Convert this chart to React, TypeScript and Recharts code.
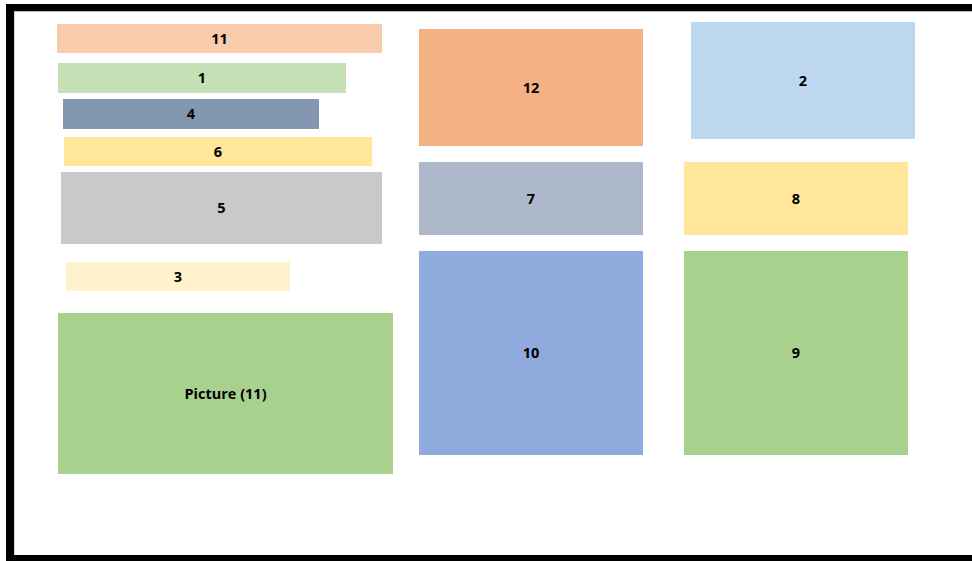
import { ReferenceArea, Scatter, ScatterChart, XAxis, YAxis } from "recharts";

// layout of the boxes, in page units (x to the right, y downwards)
const labels = ["11", "1", "4", "6", "5", "3", "Picture (11)", "12", "7", "10", "2", "8", "9"];
const left = [57, 58, 63, 64, 61, 66, 58, 419, 419, 419, 691, 684, 684];
const right = [382, 346, 319, 372, 382, 290, 393, 643, 643, 643, 915, 908, 908];
const top = [24, 63, 99, 137, 172, 262, 313, 29, 162, 251, 22, 162, 251];
const bottom = [53, 93, 129, 166, 244, 291, 474, 146, 235, 455, 139, 235, 455];
const fills = [
  "#F8CBAD", "#C5E0B4", "#8497B0", "#FFE699", "#C9C9C9", "#FFF2CC", "#A9D18E",
  "#F4B183", "#ADB9CA", "#8FAADC", "#BDD7EE", "#FFE699", "#A9D18E",
];

const W = 972;
const H = 561;

export default function App() {
  return (
    <div style={{ position: "absolute", left: 0, top: 0, width: W, height: H, background: "#fff" }}>
      <style>{"body{margin:0}"}</style>
      {/* slide frame */}
      <div
        style={{
          position: "absolute",
          left: 6,
          top: 4,
          width: W,
          height: H - 4,
          boxSizing: "border-box",
          borderLeft: "8px solid #000",
          borderTop: "7px solid #000",
          borderBottom: "6px solid #000",
        }}
      />
      <div
        style={{
          position: "absolute",
          left: 14,
          top: 11,
          width: W,
          height: 544,
          boxSizing: "border-box",
          borderLeft: "1px solid #d8d8d0",
          borderTop: "1px solid #bbb",
        }}
      />
      <div style={{ position: "absolute", left: 0, top: 0 }}>
        <ScatterChart width={W} height={H} margin={{ top: 0, right: 0, bottom: 0, left: 0 }}>
          <XAxis type="number" dataKey="x" domain={[0, W]} hide allowDataOverflow />
          <YAxis type="number" dataKey="y" domain={[0, H]} reversed hide allowDataOverflow />
          <Scatter data={[]} isAnimationActive={false} />
          {labels.map((name, i) => (
            <ReferenceArea
              key={i}
              x1={left[i]}
              x2={right[i]}
              y1={top[i]}
              y2={bottom[i]}
              fill={fills[i]}
              fillOpacity={1}
              stroke="none"
              ifOverflow="visible"
              label={{
                value: name,
                position: "center",
                fill: "#000",
                fontSize: 14.5,
                fontWeight: 700,
                fontFamily: "'Open Sans', sans-serif",
                dy: 0,
              }}
            />
          ))}
        </ScatterChart>
      </div>
    </div>
  );
}
